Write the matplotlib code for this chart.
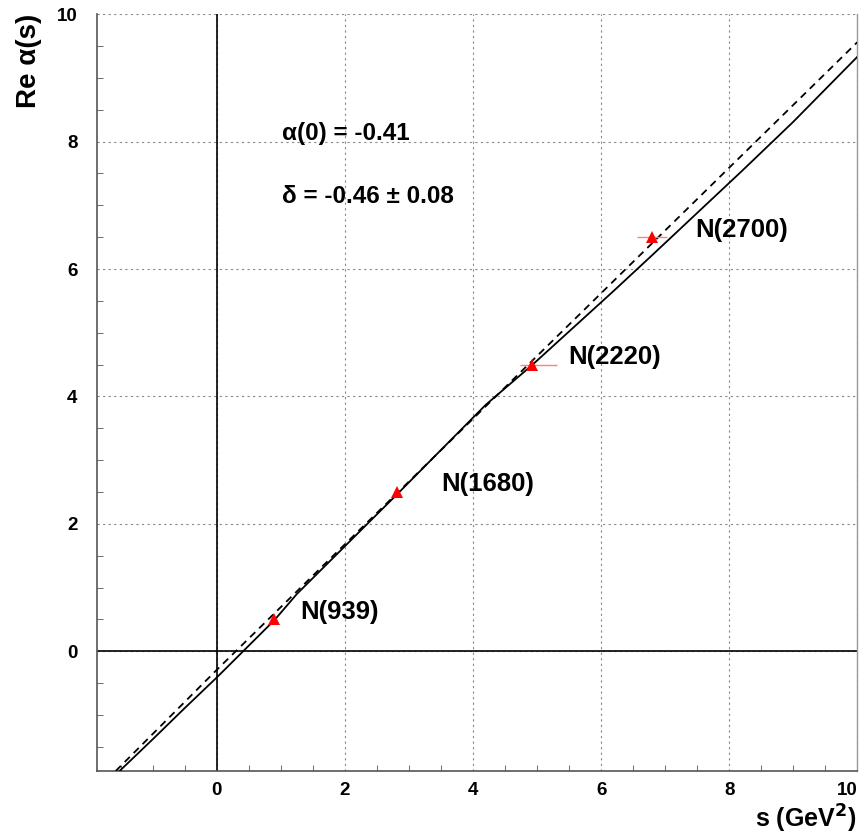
import numpy as np
import matplotlib
matplotlib.use('Agg')
import matplotlib.pyplot as plt
import matplotlib.transforms as mtransforms
from matplotlib.ticker import MultipleLocator, FixedLocator

plt.rcParams['font.family'] = ['Liberation Sans', 'DejaVu Sans']

# resonances (mass squared, Re alpha) with horizontal width errors
res_names = ['N(939)', 'N(1680)', 'N(2220)', 'N(2700)']
res_s = [0.89, 2.81, 4.92, 6.80]
res_alpha = [0.5, 2.5, 4.5, 6.5]
res_err_lo = [0.0, 0.0, 0.19, 0.24]
res_err_hi = [0.0, 0.0, 0.39, 0.23]
label_s = [1.30, 3.50, 5.48, 7.47]
label_alpha = [0.61, 2.62, 4.62, 6.61]

# fitted trajectory (solid)
fit_s = [-1.52, -1.0, -0.5, 0.0, 0.41, 0.9, 1.25, 2.0, 2.82, 3.5, 4.2,
         4.92, 5.5, 6.2, 6.8, 7.5, 8.2, 9.0, 10.0]
fit_alpha = [-1.88, -1.38, -0.89, -0.41, 0.0, 0.49, 0.90, 1.65, 2.47, 3.16, 3.87,
             4.49, 5.02, 5.66, 6.22, 6.88, 7.54, 8.31, 9.33]

# linear trajectory (dashed)
lin_s = [-1.58, 0.0, 10.0]
lin_alpha = [-1.88, -0.29, 9.56]

x_ticks = [0, 2, 4, 6, 8, 10]
y_ticks = [0, 2, 4, 6, 8, 10]

fig = plt.figure(figsize=(8.65, 8.38), dpi=100)
ax = fig.add_axes([0.112, 0.080, 0.879, 0.903])

ax.set_xlim(-1.875, 10)
ax.set_ylim(-1.88, 10)

# grid and zero lines
ax.grid(True, which='major', color='#888888', linestyle=(0, (2, 3)), linewidth=0.8)
ax.axvline(0, color='black', linewidth=1.2, zorder=2)
ax.axhline(0, color='black', linewidth=1.2, zorder=2)

ax.plot(fit_s, fit_alpha, color='black', linewidth=1.3, zorder=3)
ax.plot(lin_s, lin_alpha, color='black', linewidth=1.3, linestyle=(0, (4, 3)), zorder=3)

ax.errorbar(res_s, res_alpha, xerr=[res_err_lo, res_err_hi], fmt='^',
            color='red', ecolor='#ff8080', elinewidth=1.0, capsize=0,
            markersize=8, markeredgewidth=0, zorder=4)

for name, xs, ys in zip(res_names, label_s, label_alpha):
    ax.text(xs, ys, name, fontsize=18.5, fontweight='bold', ha='left', va='center')

ax.text(1.02, 8.13, 'α(0) = -0.41', fontsize=17.5, fontweight='bold', ha='left', va='center')
ax.text(1.02, 7.14, 'δ = -0.46 ± 0.08', fontsize=17.5, fontweight='bold', ha='left', va='center')

# ticks
ax.xaxis.set_major_locator(FixedLocator(x_ticks))
ax.yaxis.set_major_locator(FixedLocator(y_ticks))
ax.xaxis.set_minor_locator(MultipleLocator(0.5))
ax.yaxis.set_minor_locator(MultipleLocator(0.5))
ax.tick_params(which='both', direction='in', top=False, right=False, color='#555555')
ax.tick_params(which='major', length=0, labelsize=13.5, pad=8)
ax.tick_params(axis='y', which='major', pad=14)
ax.tick_params(which='minor', length=4)
for lab in ax.get_xticklabels() + ax.get_yticklabels():
    lab.set_fontweight('bold')

# keep the last x tick label inside the canvas
last = ax.get_xticklabels()[-1]
last.set_transform(last.get_transform() +
                   mtransforms.ScaledTranslation(-7 / 72, 0, fig.dpi_scale_trans))

for side in ['left', 'bottom']:
    ax.spines[side].set_color('#555555')
    ax.spines[side].set_linewidth(1.2)
ax.spines['top'].set_visible(False)
ax.spines['right'].set_color('#999999')
ax.spines['right'].set_linewidth(1.0)

fig.text(0.018, 0.983, 'Re α(s)', rotation=90, fontsize=20, fontweight='bold',
         ha='left', va='top')
fig.text(0.99, 0.003, 's (GeV$^\\mathbf{2}$)', fontsize=18, fontweight='bold',
         ha='right', va='bottom')

fig.savefig('out.png', dpi=100)
